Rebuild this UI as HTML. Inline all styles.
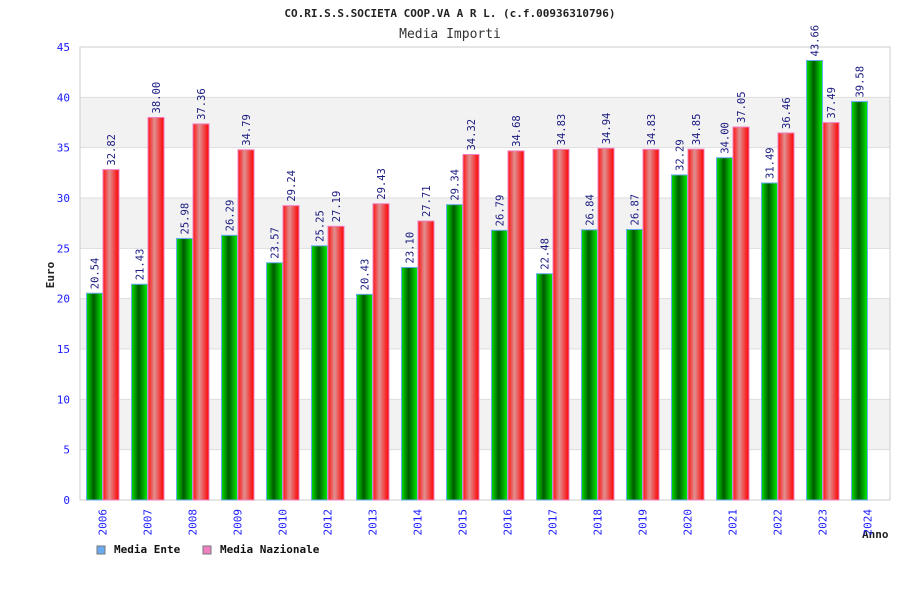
<!DOCTYPE html>
<html><head><meta charset="utf-8"><style>
body{margin:0;background:#fff}
svg{display:block;font-family:"DejaVu Sans Mono","Liberation Mono",monospace}
</style></head><body>
<svg id="c" width="900" height="600" xmlns="http://www.w3.org/2000/svg">
<defs>
<linearGradient id="gG" x1="0" x2="1" y1="0" y2="0">
<stop offset="0" stop-color="#00e000"/><stop offset="0.45" stop-color="#005a00"/><stop offset="1" stop-color="#00f000"/></linearGradient>
<linearGradient id="gR" x1="0" x2="1" y1="0" y2="0">
<stop offset="0" stop-color="#ff1010"/><stop offset="0.4" stop-color="#e09090"/><stop offset="1" stop-color="#ff0000"/></linearGradient>
</defs>
<text x="450" y="17" text-anchor="middle" font-size="11" font-weight="bold" fill="#222">CO.RI.S.S.SOCIETA COOP.VA A R L. (c.f.00936310796)</text>
<text x="450" y="38" text-anchor="middle" font-size="13" fill="#333">Media Importi</text>
<text transform="translate(54,275) rotate(-90)" text-anchor="middle" font-size="11" font-weight="bold" fill="#222">Euro</text>
<text x="862" y="538" font-size="11" font-weight="bold" fill="#222">Anno</text>
<g id="plot"></g>
<g>
<rect x="97" y="546" width="8" height="8" fill="#6aaaf0" stroke="#777"/>
<text x="114" y="553" font-size="11" font-weight="bold" fill="#111">Media Ente</text>
<rect x="203" y="546" width="8" height="8" fill="#f080c0" stroke="#777"/>
<text x="220" y="553" font-size="11" font-weight="bold" fill="#111">Media Nazionale</text>
</g>
</svg>
<script>
const categories=["2006","2007","2008","2009","2010","2012","2013","2014","2015","2016","2017","2018","2019","2020","2021","2022","2023","2024"];
const enteValues=[20.54,21.43,25.98,26.29,23.57,25.25,20.43,23.10,29.34,26.79,22.48,26.84,26.87,32.29,34.00,31.49,43.66,39.58];
const nazionaleValues=[32.82,38.00,37.36,34.79,29.24,27.19,29.43,27.71,34.32,34.68,34.83,34.94,34.83,34.85,37.05,36.46,37.49,null];
const yTicks=[0,5,10,15,20,25,30,35,40,45];
const L=80,R=890,T=47,B=500,yMax=45;
const y=v=>B-(v/yMax)*(B-T);
const bw=(R-L)/categories.length;
const x=i=>L+bw*(i+0.5);
const NS="http://www.w3.org/2000/svg";
const g=document.getElementById('plot');
function mk(t,a){const e=document.createElementNS(NS,t);for(const k in a)e.setAttribute(k,a[k]);g.appendChild(e);return e;}
for(let i=0;i<yTicks.length-1;i++){
 if(i%2===1){const r=mk('rect',{x:L,y:y(yTicks[i+1]),width:R-L,height:y(yTicks[i])-y(yTicks[i+1]),fill:'#f2f2f2'});
 
 }
}
yTicks.forEach(v=>{
 const l=mk('line',{x1:L,x2:R,y1:y(v),y2:y(v),stroke:'#ddd'});
 
 
 const t=mk('text',{x:L-10,y:y(v)+4,'text-anchor':'end','font-size':11,fill:'#1a1aff'});
 t.textContent=v;
 
 
});
const fr=mk('rect',{x:L,y:T,width:R-L,height:B-T,fill:'none',stroke:'#ccc'});


function bar(i,v,off,fill,stroke,nm){
 if(v==null)return;
 const bx=x(i)+off;
 const r=mk('rect',{x:bx,y:y(v),width:16,height:B-y(v),fill:fill,stroke:stroke,'stroke-width':1});
 
 
 const t=mk('text',{transform:`translate(${bx+12},${y(v)-4}) rotate(-90)`,'font-size':10.5,fill:'#1a1a80'});
 t.textContent=v.toFixed(2);
 
 
}
categories.forEach((c,i)=>{
 bar(i,enteValues[i],-16,'url(#gG)','#6aaaf0','bar-ente-'+c);
 bar(i,nazionaleValues[i],0.5,'url(#gR)','#f080c0','bar-nazionale-'+c);
 const t=mk('text',{transform:`translate(${x(i)+4},${B+9}) rotate(-90)`,'text-anchor':'end','font-size':11,fill:'#1a1aff'});
 t.textContent=c;
 
 
});
</script>
</body></html>
